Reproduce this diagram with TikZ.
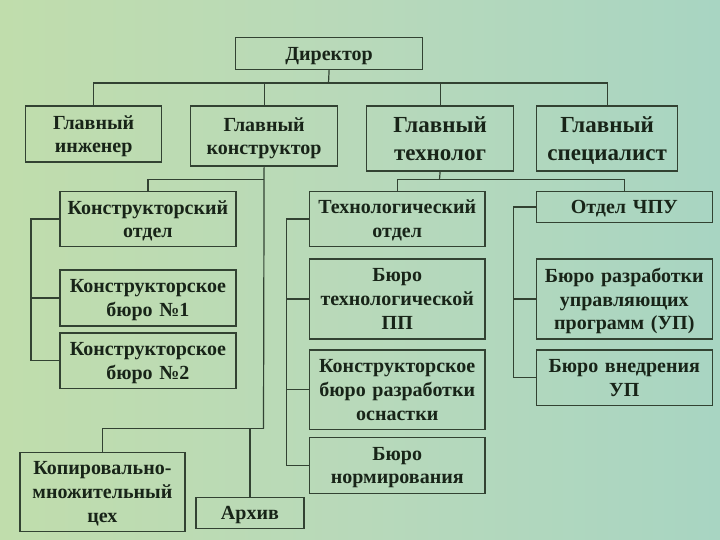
\documentclass[tikz,border=0pt]{standalone}
\usepackage{fontspec}
\setmainfont{Liberation Serif}
\definecolor{bgA}{RGB}{192,221,172}
\definecolor{bgM}{RGB}{184,217,186}
\definecolor{bgB}{RGB}{168,213,194}
\definecolor{edge}{RGB}{50,66,50}
\definecolor{ink}{RGB}{24,36,24}
\tikzset{
  box/.style={draw=edge, line width=1.2pt, text=ink, align=center, inner sep=0pt,
    execute at end node={\par\kern-\prevdepth}, anchor=north west},
  conn/.style={draw=edge, line width=1.2pt},
  fsmall/.style={font=\fontsize{20}{23.7}\selectfont\bfseries},
  fbig/.style={font=\fontsize{23}{28.5}\selectfont\bfseries}
}
\begin{document}
\begin{tikzpicture}[x=1pt,y=-1pt]
\useasboundingbox (0,0) rectangle (720,540);
\shade[left color=bgA, right color=bgB, middle color=bgM] (0,0) rectangle (720,540);

% level 0 and 1
\node[box,fsmall,minimum width=187pt,minimum height=32pt,text width=183pt] (dir) at (235,37) {Директор};
\node[box,fsmall,minimum width=136pt,minimum height=56pt,text width=132pt] (inj) at (25,105.5) {Главный\\инженер};
\node[box,fsmall,minimum width=147pt,minimum height=60pt,text width=143pt] (konstr) at (190,105.5) {Главный\\конструктор};
\node[box,fbig,minimum width=147pt,minimum height=65pt,text width=143pt] (tech) at (366,105.5) {Главный\\технолог};
\node[box,fbig,minimum width=141pt,minimum height=65pt,text width=137pt] (spec) at (536,105.5) {Главный\\специалист};

% constructor branch
\node[box,fsmall,minimum width=176pt,minimum height=55.5pt,text width=172pt] (kotdel) at (59.3,190.7) {Конструкторский\\отдел};
\node[box,fsmall,minimum width=176pt,minimum height=56pt,text width=172pt] (kb1) at (59.3,269.3) {Конструкторское\\бюро №1};
\node[box,fsmall,minimum width=176pt,minimum height=55.7pt,text width=172pt] (kb2) at (59.3,332.3) {Конструкторское\\бюро №2};
\node[box,fsmall,minimum width=165pt,minimum height=79.5pt,text width=161pt] (kop) at (19.3,451.7) {Копировально-\\множительный\\цех};
\node[box,fsmall,minimum width=108pt,minimum height=31pt,text width=104pt] (arch) at (195.3,496.7) {Архив};

% technologist branch
\node[box,fsmall,minimum width=175.3pt,minimum height=55.3pt,text width=171pt] (techotd) at (309,190.7) {Технологический\\отдел};
\node[box,fsmall,minimum width=175.3pt,minimum height=80pt,text width=171pt] (btpp) at (309,258.3) {Бюро\\технологической\\ПП};
\node[box,fsmall,minimum width=175.3pt,minimum height=79.7pt,text width=171pt] (kbro) at (309,349.3) {Конструкторское\\бюро разработки\\оснастки};
\node[box,fsmall,minimum width=175.3pt,minimum height=56pt,text width=171pt] (bnorm) at (309,436.7) {Бюро\\нормирования};
\node[box,fsmall,minimum width=176pt,minimum height=31.6pt,text width=172pt] (chpu) at (535.7,190.7) {Отдел ЧПУ};
\node[box,fsmall,minimum width=176pt,minimum height=80pt,text width=172pt] (bru) at (535.7,258.3) {Бюро разработки\\управляющих\\программ (УП)};
\node[box,fsmall,minimum width=176pt,minimum height=55.7pt,text width=172pt] (bvn) at (535.7,349.3) {Бюро внедрения\\УП};

% top bus
\coordinate (b0) at (328.5,83);
\draw[conn] (dir.south) -- (b0);
\draw[conn] (inj.north) |- (b0);
\draw[conn] (spec.north) |- (b0);
\draw[conn] (konstr.north) -- (konstr.north |- b0);
\draw[conn] (tech.north) -- (tech.north |- b0);

% constructor connectors
\coordinate (k1) at (263.5,179.5);
\coordinate (k2) at (263.5,428.5);
\draw[conn] (konstr.south) -- (k2);
\draw[conn] (kotdel.north) |- (k1);
\draw[conn] (kop.north) |- (k2);
\draw[conn] (arch.north) -- (arch.north |- k2);
\coordinate (lb) at (31,0);
\draw[conn] (kotdel.west) -| (lb |- kb2.west) -- (kb2.west);
\draw[conn] (kb1.west) -- (kb1.west -| lb);

% technologist connectors
\coordinate (t1) at (439.5,179.5);
\draw[conn] (tech.south) -- (t1);
\draw[conn] (techotd.north) |- (t1);
\draw[conn] (chpu.north) |- (t1);
\coordinate (mb) at (286.7,0);
\draw[conn] (techotd.west) -| (mb |- bnorm.west) -- (bnorm.west);
\draw[conn] (btpp.west) -- (btpp.west -| mb);
\draw[conn] (kbro.west) -- (kbro.west -| mb);
\coordinate (rb) at (513.3,0);
\draw[conn] (chpu.west) -| (rb |- bvn.west) -- (bvn.west);
\draw[conn] (bru.west) -- (bru.west -| rb);
\end{tikzpicture}
\end{document}
